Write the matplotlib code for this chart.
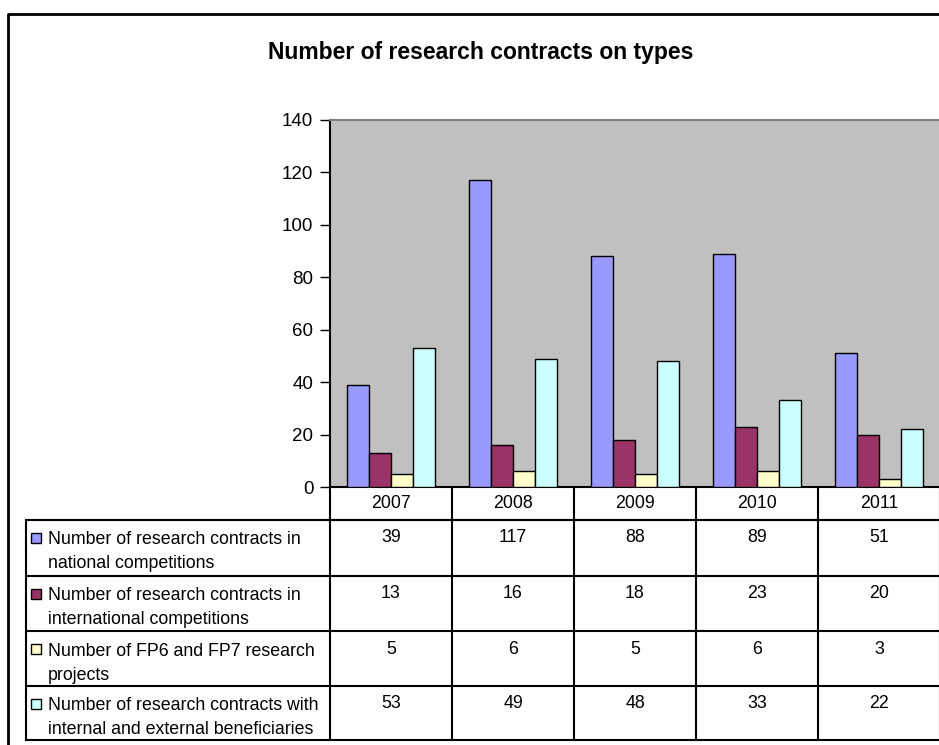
import matplotlib.pyplot as plt
import numpy as np

plt.rcParams['font.family'] = ['Liberation Sans', 'DejaVu Sans']

years = ['2007', '2008', '2009', '2010', '2011']
national = [39, 117, 88, 89, 51]
international = [13, 16, 18, 23, 20]
fp_projects = [5, 6, 5, 6, 3]
beneficiaries = [53, 49, 48, 33, 22]

series = [national, international, fp_projects, beneficiaries]
labels = [['Number of research contracts in', 'national competitions'],
          ['Number of research contracts in', 'international competitions'],
          ['Number of FP6 and FP7 research', 'projects'],
          ['Number of research contracts with', 'internal and external beneficiaries']]
colors = ['#9999FF', '#993366', '#FFFFCC', '#CCFFFF']

W, H = 939, 745
fig = plt.figure(figsize=(W / 100, H / 100), dpi=100)

# pixel canvas for frame + data table
cv = fig.add_axes([0, 0, 1, 1])
cv.set_xlim(0, W)
cv.set_ylim(H, 0)
cv.axis('off')
cv.plot([8, 8, 960], [760, 14, 14], color='black', lw=2)

cv.text(481, 53, 'Number of research contracts on types', ha='center', va='center',
        fontsize=16.5, fontweight='bold')

# plot area in pixels
left, right, top, bottom = 330, 940, 120, 487
ax = fig.add_axes([left / W, 1 - bottom / H, (right - left) / W, (bottom - top) / H])
ax.set_facecolor('#C0C0C0')
n = len(years)
x = np.arange(n) + 0.5
w = 0.18
for j, vals in enumerate(series):
    ax.bar(x + (j - 1.5) * w, vals, width=w, color=colors[j], edgecolor='black', linewidth=1, zorder=3)
ax.set_xlim(0, n)
ax.set_ylim(0, 140)
ax.set_yticks(range(0, 141, 20))
ax.set_xticks([])
ax.tick_params(axis='y', length=7, width=1, pad=5, labelsize=13.5)
ax.spines['left'].set_linewidth(1.5)
ax.spines['bottom'].set_linewidth(1.5)
ax.spines['right'].set_visible(False)
ax.spines['top'].set_color('#808080')
ax.spines['top'].set_linewidth(1.5)

# data table
col_w = (right - left) / n
row_tops = [487, 520, 576, 631, 686, 740]
tab_left = 26
lc = 'black'
fs = 12.8
# header row
cv.plot([left, right], [520, 520], color=lc, lw=1.5)
for i in range(n + 1):
    cv.plot([left + i * col_w] * 2, [487, 740], color=lc, lw=1.5)
for i, yr in enumerate(years):
    cv.text(left + (i + 0.5) * col_w, 504, yr, ha='center', va='center', fontsize=fs)
# body
for r in range(len(series) + 1):
    cv.plot([tab_left, right], [row_tops[r + 1]] * 2, color=lc, lw=1.5)
cv.plot([tab_left, tab_left], [520, 740], color=lc, lw=1.5)
for r, vals in enumerate(series):
    y0 = row_tops[r + 1]
    cv.add_patch(plt.Rectangle((31, y0 + 13), 10, 10, facecolor=colors[r], edgecolor='black', lw=1))
    for k, line in enumerate(labels[r]):
        cv.text(48, y0 + 20 + 24 * k, line, ha='left', va='center', fontsize=fs)
    for i, v in enumerate(vals):
        cv.text(left + (i + 0.5) * col_w, y0 + 18, str(v), ha='center', va='center', fontsize=fs)

fig.savefig('out.png', dpi=100)
